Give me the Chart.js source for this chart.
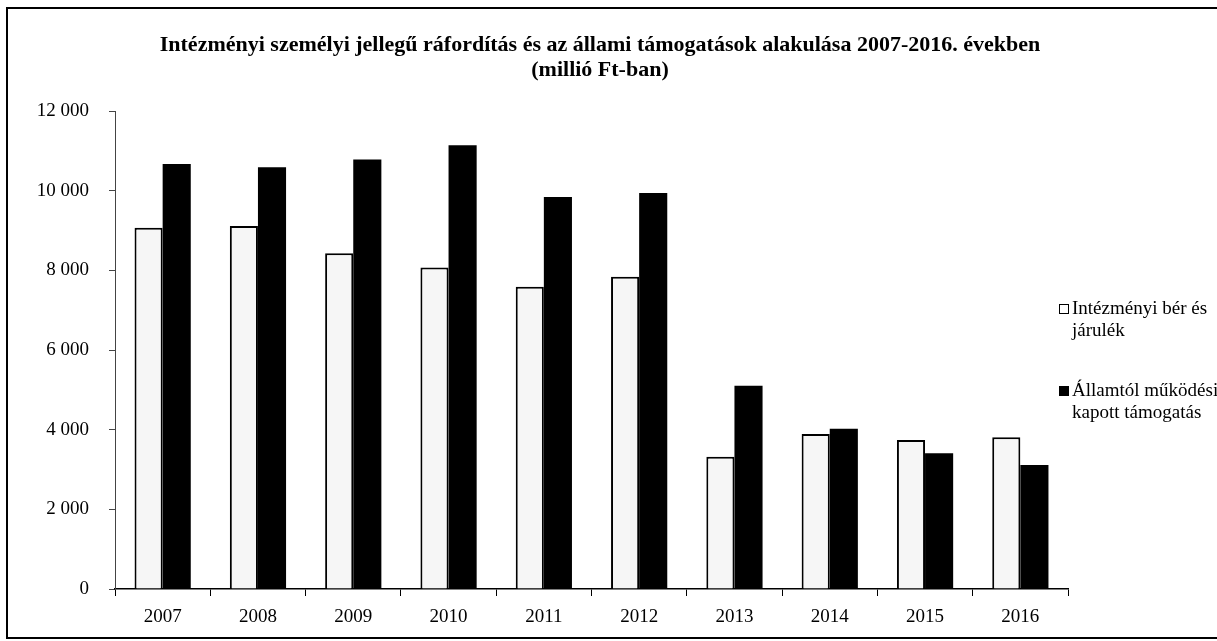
<!DOCTYPE html>
<html>
<head>
<meta charset="utf-8">
<script src="https://cdn.jsdelivr.net/npm/chart.js@4/dist/chart.umd.min.js"></script>
<style>
  body { margin: 0; background: #fff; }
  #wrap { position: relative; width: 1217px; height: 641px; }
  #frame { position: absolute; left: 6px; top: 7px; width: 1215px; height: 632px;
           border: 2px solid #000; border-right: none; box-sizing: border-box; }
  canvas { position: absolute; left: 0; top: 0; }
</style>
</head>
<body>
<div id="wrap">
  <div id="frame"></div>
  <canvas id="chart" width="1217" height="641"></canvas>
</div>
<script>
const years = ["2007", "2008", "2009", "2010", "2011", "2012", "2013", "2014", "2015", "2016"];
// millió Ft
const berJarulek = [9070, 9110, 8430, 8070, 7590, 7840, 3320, 3890, 3740, 3810];
const allamiTamogatas = [10670, 10590, 10780, 11140, 9840, 9940, 5100, 4020, 3410, 3110];
const yMax = 12000;
const yStep = 2000;
const titleLines = ["Intézményi személyi jellegű ráfordítás és az állami támogatások alakulása 2007-2016. években", "(millió Ft-ban)"];
const legendLabels = [["Intézményi bér és", "járulék"], ["Államtól működési", "kapott támogatás"]];

const serif = "'Liberation Serif', 'Times New Roman', serif";

function spaced(v) {
  return String(v).replace(/\B(?=(\d{3})+(?!\d))/g, " ");
}

// title + legend drawn by hand, the library legend cannot wrap lines
const extras = {
  id: 'extras',
  afterDraw(chart) {
    const ctx = chart.ctx;
    ctx.save();
    ctx.fillStyle = '#000';
    ctx.textAlign = 'center';
    ctx.textBaseline = 'middle';
    ctx.font = "bold 22px " + serif;
    ctx.fillText(titleLines[0], 600, 45);
    ctx.fillText(titleLines[1], 600, 70);

    ctx.font = "19px " + serif;
    ctx.textAlign = 'left';
    const rows = [309, 391];
    chart.data.datasets.forEach(function(ds, i) {
      const y = rows[i];
      ctx.fillStyle = i == 0 ? '#fff' : '#000';
      ctx.fillRect(1059, y - 5, 10, 10);
      ctx.strokeStyle = '#000';
      ctx.lineWidth = 1;
      ctx.strokeRect(1059.5, y - 4.5, 9, 9);
      ctx.fillStyle = '#000';
      legendLabels[i].forEach(function(line, j) {
        ctx.fillText(line, 1072, y + j * 22);
      });
    });
    ctx.restore();
  }
};

new Chart(document.getElementById('chart'), {
  type: 'bar',
  data: {
    labels: years,
    datasets: [
      {
        label: legendLabels[0].join(" "),
        data: berJarulek,
        backgroundColor: '#f6f6f6',
        borderColor: '#000',
        borderWidth: 2
      },
      {
        label: legendLabels[1].join(" "),
        data: allamiTamogatas,
        backgroundColor: '#000',
        borderColor: '#000',
        borderWidth: 0
      }
    ]
  },
  options: {
    responsive: false,
    devicePixelRatio: 1,
    animation: false,
    layout: { padding: { top: 111, right: 149, bottom: 0, left: 0 } },
    datasets: { bar: { categoryPercentage: 0.59, barPercentage: 1 } },
    plugins: {
      legend: { display: false },
      title: { display: false },
      tooltip: { enabled: false }
    },
    scales: {
      x: {
        grid: { drawOnChartArea: false, offset: true, tickLength: 7, color: '#000' },
        border: { color: '#000', width: 1.5 },
        ticks: { color: '#000', font: { family: serif, size: 19 }, padding: 10, maxRotation: 0 },
        afterFit: function(scale) { scale.height = 52; }
      },
      y: {
        min: 0,
        max: yMax,
        grid: { drawOnChartArea: false, tickLength: 6, color: '#444' },
        border: { color: '#444', width: 1 },
        ticks: {
          stepSize: yStep,
          color: '#000',
          font: { family: serif, size: 19 },
          padding: 20,
          callback: function(v) { return spaced(v); }
        },
        afterFit: function(scale) { scale.width = 115; }
      }
    }
  },
  plugins: [extras]
});
</script>
</body>
</html>
